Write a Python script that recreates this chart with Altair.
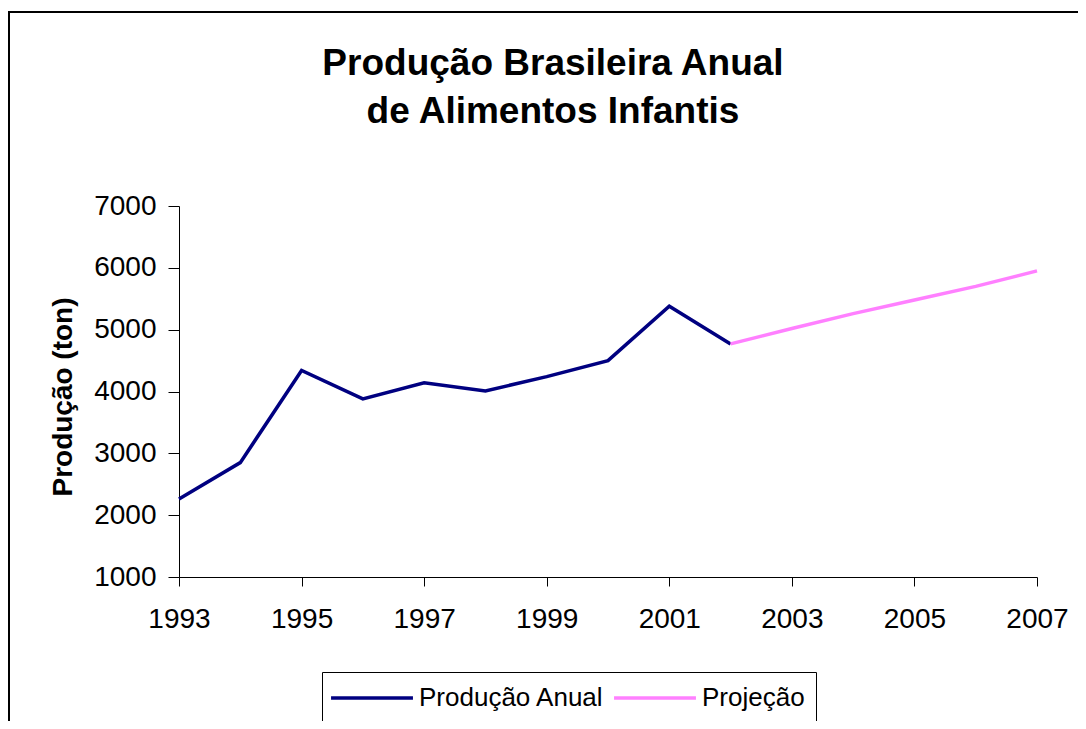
import altair as alt
import pandas as pd

# ---- data ----
years_hist = [1993, 1994, 1995, 1996, 1997, 1998, 1999, 2000, 2001, 2002]
prod_hist = [2260, 2850, 4340, 3880, 4140, 4010, 4240, 4500, 5380, 4770]
years_proj = [2002, 2003, 2004, 2005, 2006, 2007]
prod_proj = [4770, 5020, 5260, 5480, 5700, 5950]
series_names = ["Produção Anual", "Projeção"]
series_colors = ["#000080", "#FF80FF"]
x_ticks = [1993, 1995, 1997, 1999, 2001, 2003, 2005, 2007]
y_ticks = [1000, 2000, 3000, 4000, 5000, 6000, 7000]

rows = [{"ano": a, "prod": v, "serie": series_names[0]} for a, v in zip(years_hist, prod_hist)]
rows += [{"ano": a, "prod": v, "serie": series_names[1]} for a, v in zip(years_proj, prod_proj)]
df = pd.DataFrame(rows)

W, H = 858, 371
FONT = "Liberation Sans"

lines = alt.Chart(df).mark_line(strokeWidth=3.5).encode(
    x=alt.X("ano:Q",
            scale=alt.Scale(domain=[1993, 2007], nice=False, zero=False),
            axis=alt.Axis(values=x_ticks, format="d", title=None, grid=False,
                          tickSize=9, labelPadding=19, labelFlush=False,
                          labelOverlap=False)),
    y=alt.Y("prod:Q",
            scale=alt.Scale(domain=[1000, 7000], nice=False, zero=False),
            axis=alt.Axis(values=y_ticks, format="d", grid=False,
                          title="Produção (ton)", tickSize=11, labelPadding=12,
                          titleFontSize=28, titleFontWeight="bold",
                          titleAngle=270, titleX=-108, titleY=H / 2 + 5,
                          titleAlign="center", titleBaseline="alphabetic")),
    color=alt.Color("serie:N",
                    scale=alt.Scale(domain=series_names, range=series_colors),
                    legend=alt.Legend(title=None, orient="none", legendX=143, legendY=466,
                                      direction="horizontal",
                                      symbolType="M-3.15,0H3.15",
                                      symbolSize=676, symbolStrokeWidth=3.5,
                                      symbolOffset=24,
                                      labelFontSize=26, labelFont=FONT, labelColor="black",
                                      labelLimit=400,
                                      labelOffset=32, columnPadding=2, padding=11,
                                      strokeColor="black", fillColor="white")),
    detail="serie:N",
)

frame = alt.Chart(df).mark_rect(fill=None, stroke="black", strokeWidth=2).encode(
    x=alt.value(-170), x2=alt.value(W + 200),
    y=alt.value(-194), y2=alt.value(H + 300),
)

chart = alt.layer(frame, lines).properties(
    width=W, height=H,
    title=alt.TitleParams(
        text=["Produção Brasileira Anual", "de Alimentos Infantis"],
        fontSize=37, font=FONT, fontWeight="bold", color="black",
        anchor="middle", dx=-55, lineHeight=48, offset=-120,
    ),
    autosize=alt.AutoSizeParams(type="none"),
    padding={"left": 171, "top": 198, "right": 41, "bottom": 144},
).configure(background="white", font=FONT).configure_view(stroke=None).configure_axis(
    domainColor="black", tickColor="black", labelColor="black", titleColor="black",
    labelFont=FONT, titleFont=FONT, labelFontSize=28, domainWidth=1, tickWidth=1,
)

chart.save("out.html", embed_options={"renderer": "svg", "actions": False})
